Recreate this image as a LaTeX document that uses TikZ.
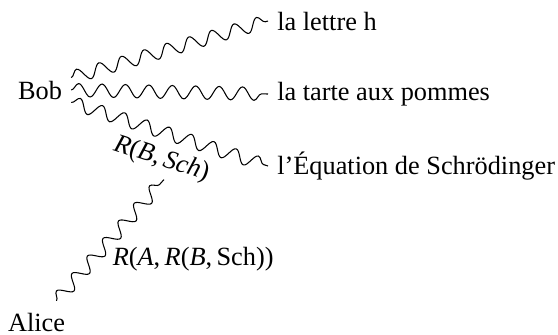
\documentclass[tikz,border=0pt]{standalone}
\usepackage{fontspec}
\setmainfont{Liberation Serif}
\usetikzlibrary{decorations.pathmorphing}
\begin{document}
\begin{tikzpicture}[x=0.38pt,y=-0.38pt,
  wave/.style={decorate, decoration={snake, amplitude=2.5pt, segment length=8.9pt}},
  txt/.style={font=\fontsize{10}{12}\selectfont}]
\useasboundingbox (0,0) rectangle (558,334);
\node[txt, inner ysep=1pt] (bob) at (40,90) {Bob};
\node[txt, anchor=west] (h) at (268,21) {la lettre h};
\node[txt, anchor=west] (tarte) at (268,94) {la tarte aux pommes};
\node[txt, anchor=west] (sch) at (268,166) {l’Équation de Schrödinger};
\node[txt] (alice) at (36.5,322) {Alice};
\draw[wave] (bob.north east) -- (h.west);
\draw[wave] (bob.east) -- (tarte.west);
\draw[wave] (bob.south east) -- node[txt, midway, below=2pt, sloped] (rbs) {\textit{R}(\textit{B},\,\textit{Sch})} (sch.west);
\draw[wave] ([xshift=7.6pt, yshift=1pt]alice.north) -- node[txt, pos=0.34, right=4pt] (rabs) {\textit{R}(\textit{A},\,\textit{R}(\textit{B},\,Sch))} ([xshift=3.4pt]rbs.south);
\end{tikzpicture}
\end{document}
